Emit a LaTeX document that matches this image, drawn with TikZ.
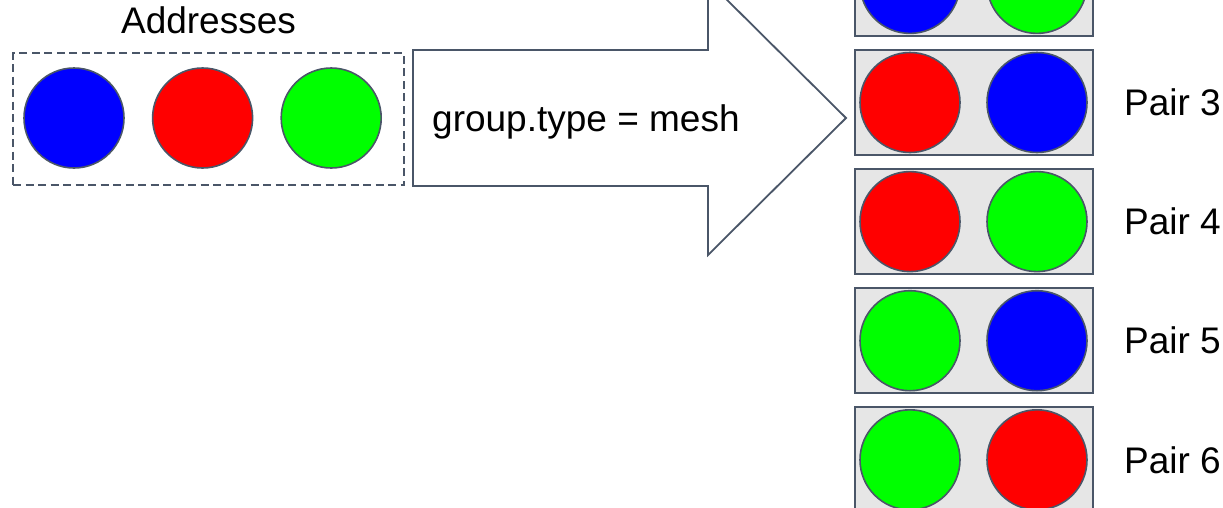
\documentclass[tikz,border=0pt]{standalone}
\usepackage{fontspec}
\setmainfont{Liberation Sans}
\usetikzlibrary{positioning}

\definecolor{edgegray}{RGB}{74,86,104}
\definecolor{pairfill}{RGB}{230,230,230}
\definecolor{addrblue}{RGB}{0,0,255}
\definecolor{addrred}{RGB}{255,0,0}
\definecolor{addrgreen}{RGB}{0,255,0}

\begin{document}
\begin{tikzpicture}[
  x=1pt, y=-1pt,
  font=\fontsize{37pt}{44pt}\selectfont,
  addr/.style={
    circle, draw=edgegray, line width=1.6pt, minimum size=100pt, inner sep=0pt
  },
  groupbox/.style={
    draw=edgegray, line width=1.6pt, dash pattern=on 8pt off 4.5pt,
    minimum width=391pt, minimum height=132pt, inner sep=0pt
  },
  pairbox/.style={
    draw=edgegray, fill=pairfill, line width=1.8pt,
    minimum width=238pt, minimum height=105pt, inner sep=0pt
  },
  label/.style={inner sep=0pt},
  bigarrow/.style={draw=edgegray, fill=white, line width=1.8pt, line join=miter}
]
\clip (0,0) rectangle (1223,507);

% addresses
\node[groupbox] (addrbox) at (208.5,119) {};
\node[label, above=18pt of addrbox] (addrtitle) {Addresses};
\node[addr, fill=addrblue] (a1) at (74,118) {};
\node[addr, fill=addrred, right=27pt of a1] (a2) {};
\node[addr, fill=addrgreen, right=27pt of a2] (a3) {};

% mesh arrow
\draw[bigarrow] (413,50) -- (708,50) -- (708,-19) -- (846,118)
  -- (708,255) -- (708,186) -- (413,186) -- cycle;
\node[label, anchor=base west] (meshtext) at (432,131) {group.type = mesh};

% pairs
\node[pairbox] (pair3) at (974,102.5) {};
\node[pairbox, above=12.3pt of pair3] (pair2) {};
\node[pairbox, below=12.3pt of pair3] (pair4) {};
\node[pairbox, below=12.3pt of pair4] (pair5) {};
\node[pairbox, below=12.3pt of pair5] (pair6) {};

\node[addr, fill=addrblue] (p2a) at ([xshift=-64pt]pair2.center) {};
\node[addr, fill=addrgreen] (p2b) at ([xshift=63pt]pair2.center) {};
\node[addr, fill=addrred] (p3a) at ([xshift=-64pt]pair3.center) {};
\node[addr, fill=addrblue] (p3b) at ([xshift=63pt]pair3.center) {};
\node[addr, fill=addrred] (p4a) at ([xshift=-64pt]pair4.center) {};
\node[addr, fill=addrgreen] (p4b) at ([xshift=63pt]pair4.center) {};
\node[addr, fill=addrgreen] (p5a) at ([xshift=-64pt]pair5.center) {};
\node[addr, fill=addrblue] (p5b) at ([xshift=63pt]pair5.center) {};
\node[addr, fill=addrgreen] (p6a) at ([xshift=-64pt]pair6.center) {};
\node[addr, fill=addrred] (p6b) at ([xshift=63pt]pair6.center) {};

\node[label, right=30pt of pair3] (lab3) {Pair 3};
\node[label, right=30pt of pair4] (lab4) {Pair 4};
\node[label, right=30pt of pair5] (lab5) {Pair 5};
\node[label, right=30pt of pair6] (lab6) {Pair 6};

\end{tikzpicture}
\end{document}
